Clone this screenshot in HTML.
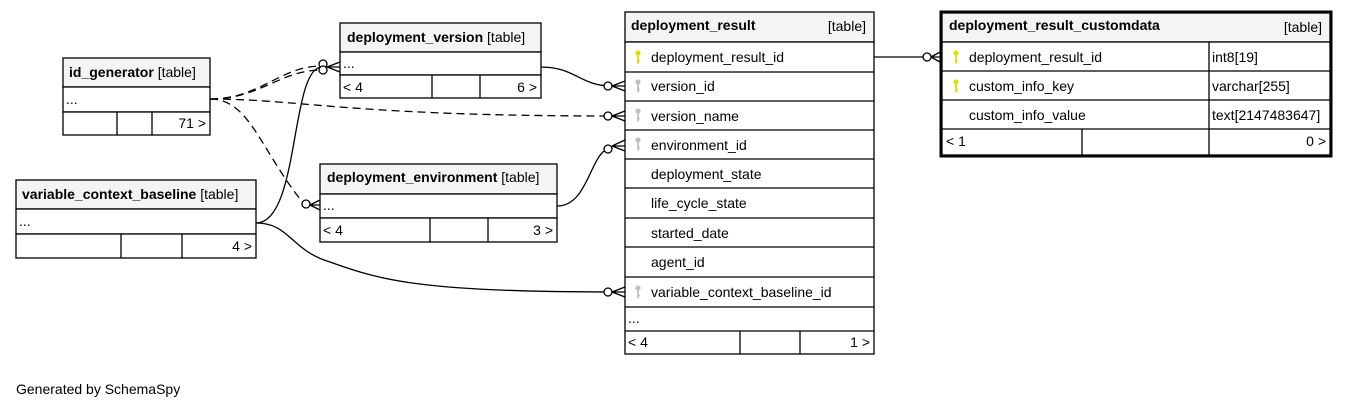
<!DOCTYPE html>
<html><head><meta charset="utf-8"><style>
html,body{margin:0;padding:0;background:#fff;}
svg{display:block;font-family:"Liberation Sans",Arial,sans-serif;font-size:14px;}
</style></head><body>
<svg width="1348" height="409" viewBox="0 0 1348 409" xmlns="http://www.w3.org/2000/svg">
<defs>
<g id="key"><circle cx="0" cy="0" r="2.6"/><rect x="-0.9" y="1.5" width="1.8" height="9"/><rect x="0" y="7" width="2" height="1.3"/></g>
</defs>
<g fill="none" stroke="#000" stroke-width="1.3">
<!-- edges -->
<path d="M541,67 C575,67 580,86 612,86"/>
<path d="M874,57 L930,57"/>
<path d="M557,206 C590,206 590,148 612,148"/>
<path d="M256,223 C300,223 290,67 322,67"/>
<path d="M256,223 C290,223 290,250 330,262 C380,280 420,292 612,292"/>
<g stroke-dasharray="8,5">
<path d="M210,99 C260,99 280,66 322,66"/>
<path d="M210,99 C260,99 280,70 322,70"/>
<path d="M210,99 C300,99 350,116 612,116"/>
<path d="M210,99 C250,99 260,150 304,204"/>
</g>
</g>
<g fill="#fff" stroke="#000" stroke-width="1.3">
<circle cx="323" cy="64" r="4"/><circle cx="323" cy="70" r="4"/>
<circle cx="608" cy="86" r="4"/><circle cx="608" cy="116" r="4"/><circle cx="608" cy="149" r="4"/>
<circle cx="608" cy="292" r="4"/><circle cx="306" cy="204" r="4"/><circle cx="927" cy="57" r="4"/>
</g>
<g stroke="#000" stroke-width="1.3" fill="none">
<path d="M327,67 L340,62 M327,67 L340,67 M327,67 L340,72"/>
<path d="M612,86 L625,81 M612,86 L625,86 M612,86 L625,91"/>
<path d="M612,116 L625,111 M612,116 L625,116 M612,116 L625,121"/>
<path d="M612,146 L625,140 M612,146 L625,146 M612,146 L625,151"/>
<path d="M612,292 L625,287 M612,292 L625,292 M612,292 L625,297"/>
<path d="M310,205 L320,200 M310,205 L320,205 M310,205 L320,210"/>
<path d="M931,57 L940,52 M931,57 L940,57 M931,57 L940,62"/>
</g>

<!-- id_generator -->
<g stroke="#000" stroke-width="1.3">
<rect x="63" y="58" width="147" height="29" fill="#f4f4f4"/>
<rect x="63" y="87" width="147" height="25" fill="#fff"/>
<rect x="63" y="112" width="147" height="23" fill="#fff"/>
<line x1="117" y1="112" x2="117" y2="135"/><line x1="152" y1="112" x2="152" y2="135"/>
</g>
<text x="69" y="77"><tspan font-weight="bold">id_generator</tspan> [table]</text>
<text x="66" y="104">...</text>
<text x="206" y="128" text-anchor="end">71 &gt;</text>

<!-- deployment_version -->
<g stroke="#000" stroke-width="1.3">
<rect x="340" y="23" width="201" height="29" fill="#f4f4f4"/>
<rect x="340" y="52" width="201" height="23" fill="#fff"/>
<rect x="340" y="75" width="201" height="23" fill="#fff"/>
<line x1="432" y1="75" x2="432" y2="98"/><line x1="480" y1="75" x2="480" y2="98"/>
</g>
<text x="347" y="42"><tspan font-weight="bold">deployment_version</tspan> [table]</text>
<text x="343" y="68">...</text>
<text x="343" y="92">&lt; 4</text>
<text x="537" y="92" text-anchor="end">6 &gt;</text>

<!-- variable_context_baseline -->
<g stroke="#000" stroke-width="1.3">
<rect x="16" y="180" width="240" height="29" fill="#f4f4f4"/>
<rect x="16" y="209" width="240" height="25" fill="#fff"/>
<rect x="16" y="234" width="240" height="24" fill="#fff"/>
<line x1="121" y1="234" x2="121" y2="258"/><line x1="182" y1="234" x2="182" y2="258"/>
</g>
<text x="22" y="199"><tspan font-weight="bold">variable_context_baseline</tspan> [table]</text>
<text x="19" y="226">...</text>
<text x="252" y="251" text-anchor="end">4 &gt;</text>

<!-- deployment_environment -->
<g stroke="#000" stroke-width="1.3">
<rect x="320" y="164" width="237" height="30" fill="#f4f4f4"/>
<rect x="320" y="194" width="237" height="24" fill="#fff"/>
<rect x="320" y="218" width="237" height="24" fill="#fff"/>
<line x1="430" y1="218" x2="430" y2="242"/><line x1="488" y1="218" x2="488" y2="242"/>
</g>
<text x="327" y="182"><tspan font-weight="bold">deployment_environment</tspan> [table]</text>
<text x="323" y="210">...</text>
<text x="323" y="235">&lt; 4</text>
<text x="553" y="235" text-anchor="end">3 &gt;</text>

<!-- deployment_result -->
<g stroke="#000" stroke-width="1.3">
<rect x="625" y="12" width="249" height="30" fill="#f4f4f4"/>
<rect x="625" y="42" width="249" height="312" fill="#fff"/>
<line x1="625" y1="72" x2="874" y2="72"/><line x1="625" y1="101" x2="874" y2="101"/>
<line x1="625" y1="130" x2="874" y2="130"/><line x1="625" y1="159" x2="874" y2="159"/>
<line x1="625" y1="188" x2="874" y2="188"/><line x1="625" y1="218" x2="874" y2="218"/>
<line x1="625" y1="247" x2="874" y2="247"/><line x1="625" y1="277" x2="874" y2="277"/>
<line x1="625" y1="307" x2="874" y2="307"/><line x1="625" y1="331" x2="874" y2="331"/>
<line x1="740" y1="331" x2="740" y2="354"/><line x1="800" y1="331" x2="800" y2="354"/>
</g>
<text x="631" y="30" font-weight="bold">deployment_result</text>
<text x="866" y="31" text-anchor="end">[table]</text>
<use href="#key" x="638" y="53" fill="#e0e000"/>
<use href="#key" x="638" y="82" fill="#c0c0c0"/>
<use href="#key" x="638" y="111" fill="#c0c0c0"/>
<use href="#key" x="638" y="140" fill="#c0c0c0"/>
<use href="#key" x="638" y="288" fill="#c0c0c0"/>
<text x="651" y="62">deployment_result_id</text>
<text x="651" y="91">version_id</text>
<text x="651" y="121">version_name</text>
<text x="651" y="150">environment_id</text>
<text x="651" y="179">deployment_state</text>
<text x="651" y="208">life_cycle_state</text>
<text x="651" y="238">started_date</text>
<text x="651" y="267">agent_id</text>
<text x="651" y="297">variable_context_baseline_id</text>
<text x="628" y="323">...</text>
<text x="628" y="347">&lt; 4</text>
<text x="870" y="347" text-anchor="end">1 &gt;</text>

<!-- deployment_result_customdata -->
<g stroke="#000" stroke-width="1.3">
<rect x="942" y="13" width="388" height="29" fill="#f4f4f4"/>
<rect x="942" y="42" width="388" height="113" fill="#fff"/>
<line x1="942" y1="71" x2="1330" y2="71"/><line x1="942" y1="100" x2="1330" y2="100"/>
<line x1="942" y1="129" x2="1330" y2="129"/>
<line x1="1209" y1="42" x2="1209" y2="155"/><line x1="1082" y1="129" x2="1082" y2="155"/>
</g>
<rect x="941" y="12" width="390" height="144" fill="none" stroke="#000" stroke-width="3"/>
<text x="949" y="30" font-weight="bold">deployment_result_customdata</text>
<text x="1322" y="32" text-anchor="end">[table]</text>
<use href="#key" x="956" y="53" fill="#e0e000"/>
<use href="#key" x="956" y="82" fill="#e0e000"/>
<text x="969" y="62">deployment_result_id</text>
<text x="969" y="91">custom_info_key</text>
<text x="969" y="120">custom_info_value</text>
<text x="1212" y="62">int8[19]</text>
<text x="1212" y="91">varchar[255]</text>
<text x="1212" y="120">text[2147483647]</text>
<text x="946" y="146">&lt; 1</text>
<text x="1326" y="146" text-anchor="end">0 &gt;</text>

<text x="16" y="394">Generated by SchemaSpy</text>
</svg>
</body></html>
